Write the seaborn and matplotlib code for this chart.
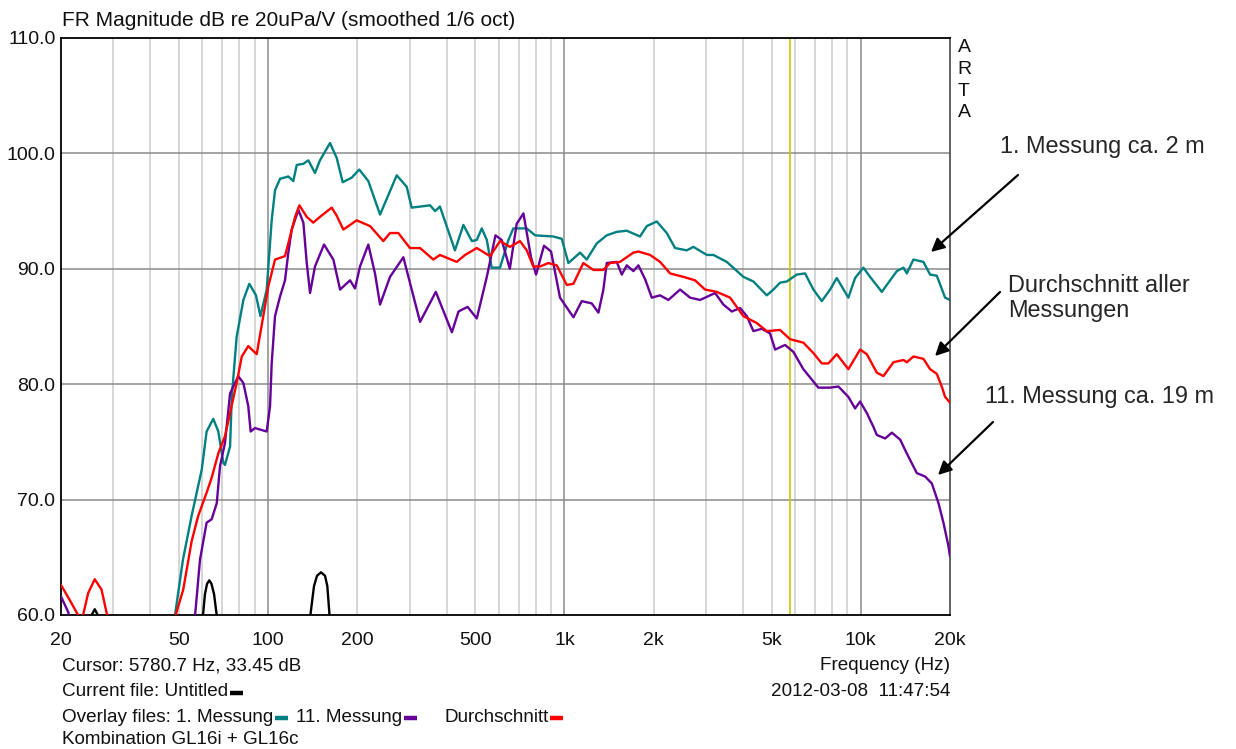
import numpy as np
import pandas as pd
import matplotlib
matplotlib.use("Agg")
import matplotlib.pyplot as plt
import seaborn as sns
from matplotlib.lines import Line2D

# ---------------- data (Hz, dB) ----------------
freq_m1 = [47, 48.5, 51.6, 55.2, 59.7, 62.0, 65.3, 67.9, 70.6, 71.5, 74.4, 75.4, 78.3, 82.5, 86.4,
           91.0, 94.2, 98.9, 102.8, 105.5, 109.7, 117, 121.6, 124.9, 131.5, 136.7, 143.9, 149.6,
           161.8, 170.4, 178.5, 191.5, 203, 217.8, 238.6, 271.6, 293.6, 305, 352, 366, 380, 427,
           456, 487, 506, 526, 547, 568, 606, 647, 672, 746, 796, 917, 979, 1031, 1129, 1189,
           1285, 1389, 1501, 1623, 1799, 1896, 2048, 2214, 2362, 2586, 2723, 3023, 3182, 3530,
           4016, 4341, 4816, 5070, 5341, 5628, 6080, 6486, 6919, 7386, 7876, 8298, 9080, 9566,
           10204, 10748, 11776, 12397, 13232, 13928, 14298, 15052, 16266, 17134, 18050, 19254, 20000]
db_m1 = [50, 60.0, 64.8, 68.6, 72.6, 75.9, 77.0, 75.9, 73.2, 73.0, 74.6, 78.9, 84.1, 87.3, 88.7,
         87.7, 85.9, 88.2, 94.2, 96.8, 97.8, 98.0, 97.6, 99.0, 99.1, 99.4, 98.3, 99.4,
         100.9, 99.6, 97.5, 97.9, 98.6, 97.6, 94.7, 98.1, 97.1, 95.3, 95.5, 95.0, 95.4, 91.6,
         93.8, 92.4, 92.5, 93.5, 92.5, 90.1, 90.1, 92.5, 93.5, 93.5, 92.9, 92.8, 92.6, 90.5, 91.4, 90.8,
         92.2, 92.9, 93.2, 93.3, 92.8, 93.7, 94.1, 93.1, 91.8, 91.6, 91.9, 91.2, 91.2, 90.6,
         89.3, 88.9, 87.7, 88.2, 88.8, 88.9, 89.5, 89.6, 88.2, 87.2, 88.2, 89.2, 87.5, 89.2,
         90.1, 89.3, 88.0, 88.8, 89.8, 90.1, 89.6, 90.8, 90.6, 89.5, 89.4, 87.5, 87.3]

freq_m11 = [20, 21.2, 22.0, 55.0, 56.7, 58.9, 62.0, 64.5, 67.1, 68.8, 71.5, 74.4, 79.3, 82.5, 85.7,
            87.3, 90.3, 98.9, 101.5, 102.8, 105.5, 109.7, 114, 117, 120.1, 126.5, 131.5, 135,
            138.5, 143.9, 154.4, 166, 174.9, 189, 196.4, 204.2, 217.8, 229.4, 238.6, 257.8, 286,
            325.6, 368, 417, 439, 471, 506, 547, 585, 614, 654, 690, 727, 771, 802, 853, 901, 966,
            1072, 1144, 1236, 1302, 1353, 1389, 1501, 1561, 1623, 1708, 1776, 1871, 1971, 2102,
            2242, 2456, 2654, 2868, 3224, 3439, 3670, 3914, 4124, 4341, 4632, 4941, 5138, 5553,
            5922, 6400, 7192, 7876, 8402, 9080, 9566, 9946, 10480, 11032, 11327, 12081, 12730,
            13576, 14298, 15453, 16482, 17366, 18286, 19006, 19751, 20000]
db_m11 = [61.6, 60.2, 50, 50, 60.0, 64.8, 68.0, 68.3, 69.7, 72.9, 74.9, 79.2, 80.7, 80.1, 78.1,
          75.9, 76.2, 75.9, 78.1, 81.8, 85.9, 87.6, 89.0, 91.4, 93.4, 95.1, 94.0, 90.5,
          87.9, 90.2, 92.1, 90.8, 88.2, 89.0, 88.3, 90.2, 92.1, 89.6, 86.9, 89.3, 91.0,
          85.4, 88.0, 84.5, 86.3, 86.7, 85.7, 89.3, 92.9, 92.5, 90.0, 93.9, 94.8, 91.0, 89.5, 92.0, 91.5, 87.5,
          85.8, 87.2, 87.0, 86.2, 88.2, 90.5, 90.6, 89.5, 90.3, 89.8, 90.3, 89.1, 87.5, 87.7,
          87.3, 88.2, 87.5, 87.3, 87.9, 86.9, 86.3, 86.6, 85.9, 84.6, 84.8, 84.4, 83.0, 83.4,
          82.8, 81.3, 79.7, 79.7, 79.8, 78.9, 77.9, 78.5, 77.5, 76.3, 75.6, 75.3, 75.8,
          75.2, 74.0, 72.3, 72.0, 71.4, 69.7, 68.0, 66.0, 65.1]

freq_avg = [20, 21.4, 22.6, 23.5, 24.7, 26.0, 27.4, 28.9, 29.5, 47.0, 48.5, 51.7, 55.2, 58.1, 62.0,
            64.5, 67.9, 71.5, 74.4, 78.3, 81.5, 85.7, 91.5, 96.3, 100.2, 105.5, 114, 118.6, 123.3,
            127.5, 135, 142, 149.6, 163.9, 170.4, 179.4, 199, 220.8, 244.8, 257.8, 275, 301, 325.6,
            361, 380, 433, 462, 506, 561, 606, 655, 708, 746, 785, 827, 882, 942, 1018, 1072, 1158,
            1252, 1353, 1425, 1540, 1708, 1776, 1945, 2102, 2272, 2520, 2758, 2982, 3266, 3622,
            4016, 4457, 4816, 5341, 5771, 6400, 6919, 7386, 7773, 8298, 9080, 9946, 10480, 11327,
            11924, 12884, 13928, 14298, 15052, 16266, 17134, 18050, 18762, 19254, 20000]
db_avg = [62.6, 61.3, 60.2, 59.5, 61.9, 63.1, 62.2, 59.5, 50, 50, 59.8, 62.2, 66.4, 68.6, 70.6,
          71.9, 74.0, 75.5, 77.5, 80.1, 82.4, 83.3, 82.6, 85.9, 88.5, 90.8, 91.1, 92.8, 94.5,
          95.5, 94.5, 94.0, 94.5, 95.3, 94.6, 93.4, 94.2, 93.7, 92.4, 93.1, 93.1, 91.8, 91.8,
          90.8, 91.2, 90.6, 91.2, 91.8, 91.1, 92.4, 91.9, 92.4, 91.6, 90.2, 90.2, 90.5, 90.3, 88.6, 88.7, 90.5,
          89.9, 89.9, 90.5, 90.6, 91.4, 91.5, 91.2, 90.6, 89.6, 89.3, 89.0, 88.2, 88.0, 87.5,
          85.9, 85.3, 84.6, 84.7, 83.9, 83.6, 82.7, 81.8, 81.8, 82.6, 81.3, 83.0, 82.6, 81.0,
          80.7, 81.9, 82.1, 81.9, 82.4, 82.2, 81.3, 80.9, 79.8, 78.9, 78.4]

freq_cur = [20, 25.2, 25.5, 26.0, 26.5, 26.8, 59.5, 60.4, 61.2, 62.2, 63.3, 64.4, 65.7, 66.9, 67.5,
            138.5, 139.2, 142.8, 146.2, 150.8, 155.6, 158.4, 160.9, 161.5, 20000]
db_cur = [50, 59.5, 60.1, 60.5, 60.1, 59.5, 59.5, 60.2, 61.8, 62.7, 63.0, 62.7, 61.8, 60.2, 59.5,
          59.5, 60.2, 62.5, 63.4, 63.7, 63.4, 62.5, 60.2, 59.5, 50]

cursor_hz = 5780.7
x_ticks = [20, 50, 100, 200, 500, 1000, 2000, 5000, 10000, 20000]
x_tick_labels = ["20", "50", "100", "200", "500", "1k", "2k", "5k", "10k", "20k"]
y_ticks = [60, 70, 80, 90, 100, 110]
y_tick_labels = ["60.0", "70.0", "80.0", "90.0", "100.0", "110.0"]
minor_grid = [30, 40, 50, 60, 70, 80, 90, 200, 300, 400, 500, 600, 700, 800, 900,
              2000, 3000, 4000, 5000, 6000, 7000, 8000, 9000]
major_grid = [100, 1000, 10000]

C_TEAL = "#008080"
C_PURP = "#660099"
C_RED = "#ff0000"

# ---------------- figure ----------------
sns.set_theme(style="white")
plt.rcParams['font.family'] = ['Liberation Sans', 'DejaVu Sans']

W, H = 1236, 749
fig = plt.figure(figsize=(W / 100, H / 100), dpi=100)
fig.patch.set_facecolor("white")

def fx(x):
    return x / W

def fy(y):
    return 1 - y / H

ax = fig.add_axes([fx(61), fy(615), fx(950) - fx(61), fy(38) - fy(615)])
ax.set_xscale("log")

for g in minor_grid:
    ax.axvline(g, color="#cccccc", lw=1.1, zorder=1)
for g in major_grid:
    ax.axvline(g, color="#8a8a8a", lw=1.1, zorder=1.1)
for g in [70, 80, 90, 100]:
    ax.axhline(g, color="#8a8a8a", lw=1.1, zorder=1.1)
ax.axvline(cursor_hz, color="#c8c800", lw=1.2, zorder=1.5)

series = [
    (freq_cur, db_cur, "black", 5),
    (freq_m1, db_m1, C_TEAL, 2),
    (freq_m11, db_m11, C_PURP, 3),
    (freq_avg, db_avg, C_RED, 4),
]
for fr, db, col, z in series:
    df = pd.DataFrame({"Hz": fr, "dB": db})
    sns.lineplot(data=df, x="Hz", y="dB", ax=ax, color=col, lw=1.7,
                 estimator=None, sort=False, zorder=z)

ax.set_xlim(20, 20000)
ax.set_ylim(60, 110)
ax.set_xticks(x_ticks)
ax.set_xticklabels(x_tick_labels)
ax.set_xticks([], minor=True)
ax.set_yticks(y_ticks)
ax.set_yticklabels(y_tick_labels)
ax.tick_params(axis="both", length=0, labelsize=14, colors="#111111")
ax.tick_params(axis="x", pad=12)
ax.tick_params(axis="y", pad=4)
ax.set_xlabel("")
ax.set_ylabel("")
for s in ["left", "bottom", "top"]:
    ax.spines[s].set_color("black")
    ax.spines[s].set_linewidth(1.3)
ax.spines["right"].set_color("#555555")
ax.spines["right"].set_linewidth(1.3)
ax.set_facecolor("white")

# title
fig.text(fx(62), fy(21), "FR Magnitude dB re 20uPa/V (smoothed 1/6 oct)",
         ha="left", va="center", fontsize=15, color="#111111")

# ARTA
for i, ch in enumerate("ARTA"):
    fig.text(fx(964), fy(48 + i * 21.5), ch, ha="center", va="center", fontsize=14,
             color="#111111")

# annotations
ann = [
    ("1. Messung ca. 2 m", (1000, 147), (1018, 175), (931, 252)),
    ("Durchschnitt aller\nMessungen", (1008, 298), (1000, 292), (935, 356)),
    ("11. Messung ca. 19 m", (985, 397), (993, 422), (938, 475)),
]
for txt, tpos, a0, a1 in ann:
    fig.text(fx(tpos[0]), fy(tpos[1]), txt, ha="left", va="center", fontsize=16.9,
             linespacing=1.15)
    ax.annotate("", xy=(fx(a1[0]), fy(a1[1])), xycoords="figure fraction",
                xytext=(fx(a0[0]), fy(a0[1])), textcoords="figure fraction",
                arrowprops=dict(arrowstyle="-|>", color="black", lw=1.6,
                                mutation_scale=20, shrinkA=0, shrinkB=0))

# bottom info texts
fs = 13.6
fig.text(fx(62), fy(666), "Cursor: 5780.7 Hz, 33.45 dB", ha="left", va="center", fontsize=fs,
         color="#111111")
fig.text(fx(950), fy(666), "Frequency (Hz)", ha="right", va="center", fontsize=fs,
         color="#111111")
fig.text(fx(950), fy(692), "2012-03-08  11:47:54", ha="right", va="center", fontsize=fs,
         color="#111111")
fig.text(fx(62), fy(740), "Kombination GL16i + GL16c", ha="left", va="center", fontsize=fs,
         color="#111111")

fig.canvas.draw()
renderer = fig.canvas.get_renderer()

def text_then_dash(x_px, y_px, txt, color):
    t = fig.text(fx(x_px), fy(y_px), txt, ha="left", va="center", fontsize=fs, color="#111111")
    bb = t.get_window_extent(renderer=renderer)
    x_end = bb.x1
    line = Line2D([fx(x_end + 2), fx(x_end + 15)], [fy(y_px + 1), fy(y_px + 1)],
                  transform=fig.transFigure, color=color, lw=3.2, solid_capstyle="butt")
    fig.add_artist(line)
    return x_end + 15

text_then_dash(62, 692, "Current file: Untitled", "black")
text_then_dash(62, 717, "Overlay files: 1. Messung", C_TEAL)
text_then_dash(296, 717, "11. Messung", C_PURP)
text_then_dash(444, 717, "Durchschnitt", C_RED)

fig.savefig("out.png", dpi=100, facecolor="white")
